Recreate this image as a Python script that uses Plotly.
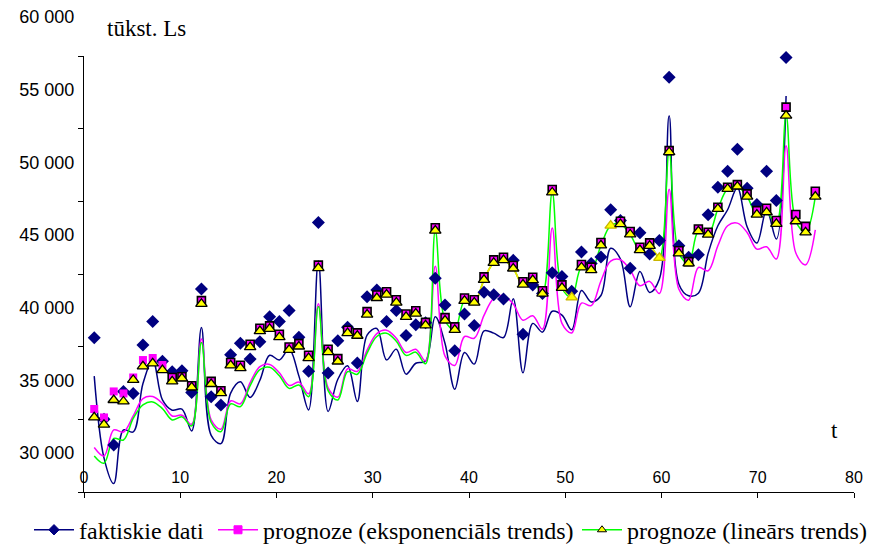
import plotly.graph_objects as go

# Monthly observations, t = 1..72 (tūkst. Ls)
t_actual = list(range(1, 73))
faktiskie = [
    37970, 32350, 30580, 34270, 34130, 37460, 39090, 36340, 35630, 35700,
    34200, 41320, 33900, 33330, 36800, 37580, 36500, 37690, 39410, 39090,
    39830, 37990, 35650, 45900, 35540, 37760, 38680, 36230, 40790, 41250,
    39090, 39830, 38110, 38860, 39000, 42050, 40220, 37070, 39600, 38800,
    41090, 40930, 40630, 43290, 38200, 41600, 41000, 42440, 42170, 41160,
    43870, 43080, 43520, 46770, 46030, 42740, 45180, 43730, 44650, 55890,
    44300, 43500, 43680, 46420, 48320, 49420, 50930, 48250, 47130, 49420,
    47400, 57250,
]

# Forecasts, t = 1..75
t_fc = list(range(1, 76))
prog_exp = [
    33060, 32480, 34270, 34130, 35230, 36430, 36570, 36090, 35230, 35280,
    34660, 40520, 34960, 34320, 36260, 36070, 37520, 38620, 38780, 38200,
    37330, 37560, 36760, 42960, 37170, 36530, 38480, 38300, 39760, 40900,
    41130, 40580, 39600, 39820, 39020, 45530, 39350, 38710, 40700, 40580,
    42150, 43320, 43500, 42930, 41820, 42130, 41200, 48160, 41600, 40940,
    43000, 42820, 44520, 45880, 45980, 45270, 44190, 44490, 43660, 50840,
    43950, 43200, 45450, 45220, 46940, 48320, 48500, 47860, 46710, 46870,
    46030, 53830, 46440, 45630, 48040,
]
prog_lin = [
    32480, 31980, 33680, 33580, 35060, 35990, 36200, 35740, 34960, 35170,
    34550, 40290, 34780, 34150, 36060, 35870, 37320, 38420, 38580, 38000,
    37130, 37360, 36560, 42760, 36970, 36330, 38280, 38100, 39560, 40700,
    40930, 40380, 39400, 39620, 38820, 45330, 39150, 38510, 40500, 40380,
    41950, 43120, 43300, 42730, 41620, 41930, 41000, 47960, 41400, 40740,
    42800, 42620, 44320, 45680, 45780, 45070, 43990, 44290, 43460, 50730,
    43770, 43080, 45290, 45060, 46830, 48210, 48370, 47680, 46440, 46600,
    45800, 53250, 45980, 45220, 47680,
]

x_ticks = list(range(0, 81, 10))
y_ticks = list(range(30000, 60001, 5000))
y_ticktext = [f"{v // 1000} 000" for v in y_ticks]

# the marker layer sits on its own value axis, offset from the curve layer
SHIFT = 2650
FC_START = 36  # from here the linear-trend curve follows the markers
YELLOW_RUNS = [(39, 47), (49, 50), (58, 59)]  # stretches drawn in the marker colour

NAVY = "#000080"
MAGENTA = "#FF00FF"
GREEN = "#00FF00"
YELLOW = "#FFFF00"

fig = go.Figure()

# smoothed curves
fig.add_trace(go.Scatter(x=t_actual, y=faktiskie, mode="lines", line=dict(color=NAVY, width=1.5, shape="spline"),
                         xaxis="x2", yaxis="y", showlegend=False, hoverinfo="skip"))
fig.add_trace(go.Scatter(x=t_fc, y=prog_exp, mode="lines", line=dict(color=MAGENTA, width=1.5, shape="spline"),
                         xaxis="x2", yaxis="y", showlegend=False, hoverinfo="skip"))
lin_curve = [v if t < FC_START else v + SHIFT for t, v in zip(t_fc, prog_lin)]
fig.add_trace(go.Scatter(x=t_fc, y=lin_curve, mode="lines", line=dict(color=GREEN, width=1.5, shape="spline"),
                         xaxis="x2", yaxis="y", showlegend=False, hoverinfo="skip"))

# yellow stretches of the linear-trend line between markers
for a, b in YELLOW_RUNS:
    xs = [t for t in t_fc if a <= t <= b]
    ys = [v for t, v in zip(t_fc, prog_lin) if a <= t <= b]
    fig.add_trace(go.Scatter(x=xs, y=ys, mode="lines", line=dict(color="#F0E000", width=1.8, shape="spline"),
                             xaxis="x2", yaxis="y2", showlegend=False, hoverinfo="skip"))

# point markers
fig.add_trace(go.Scatter(x=t_actual, y=faktiskie, mode="markers",
                         marker=dict(symbol="diamond", size=10, color=NAVY, line=dict(width=0)),
                         xaxis="x2", yaxis="y2", cliponaxis=False, showlegend=False))
sq_border = [0 if t <= 8 else 1.6 for t in t_fc]
hollow = {50, 54, 59}
sq_opacity = [0 if t in hollow else 1 for t in t_fc]
fig.add_trace(go.Scatter(x=t_fc, y=prog_exp, mode="markers",
                         marker=dict(symbol="square", size=8, color=MAGENTA, opacity=sq_opacity,
                                     line=dict(width=sq_border, color="black")),
                         xaxis="x2", yaxis="y2", cliponaxis=False, showlegend=False))
tri_edge = ["#C8B400" if t in hollow else "black" for t in t_fc]
fig.add_trace(go.Scatter(x=t_fc, y=prog_lin, mode="markers",
                         marker=dict(symbol="triangle-up", size=10, color=YELLOW,
                                     line=dict(width=1.3, color=tri_edge)),
                         xaxis="x2", yaxis="y2", cliponaxis=False, showlegend=False))

# legend entries, one small legend box each
legend_items = [
    ("faktiskie dati", NAVY, "diamond", NAVY, NAVY, "legend", 29),
    ("prognoze (eksponenciāls trends)", MAGENTA, "square", MAGENTA, MAGENTA, "legend2", 213),
    ("prognoze (lineārs trends)", GREEN, "triangle-up", YELLOW, "black", "legend3", 577),
]
legend_font = dict(family="Liberation Serif, Times New Roman, serif", size=24, color="black")
legend_boxes = {}
for name, lc, sym, mc, ml, lg, left_px in legend_items:
    fig.add_trace(go.Scatter(x=[None], y=[None], mode="lines+markers", name=name, legend=lg,
                             line=dict(color=lc, width=1.5),
                             marker=dict(symbol=sym, size=8, color=mc, line=dict(width=1, color=ml))))
    legend_boxes[lg] = dict(orientation="h", xref="container", x=left_px / 876, xanchor="left",
                            yref="container", y=0.029, yanchor="middle", font=legend_font,
                            itemwidth=40, bgcolor="rgba(0,0,0,0)")

axis_font = dict(family="Liberation Sans, Arial, sans-serif", size=18, color="black")

fig.update_layout(
    width=876, height=546,
    margin=dict(l=84, r=22, t=56, b=54, autoexpand=False),
    paper_bgcolor="white", plot_bgcolor="white",
    xaxis=dict(range=[0, 80], tickvals=x_ticks, ticks="outside", ticklen=5, tickcolor="black",
               ticklabelstandoff=-34,
               tickfont=dict(family="Liberation Sans, Arial, sans-serif", size=16, color="black"),
               showline=True, linecolor="black", linewidth=1, showgrid=False, zeroline=False, anchor="y"),
    xaxis2=dict(range=[-0.05, 78.97], overlaying="x", visible=False),
    yaxis=dict(range=[30000, 60000], tickvals=y_ticks, ticktext=y_ticktext, ticks="outside", ticklen=5,
               tickcolor="black", ticklabelshift=-39, tickfont=axis_font,
               showline=True, linecolor="black", linewidth=1, showgrid=False, zeroline=False),
    yaxis2=dict(range=[30000 - SHIFT, 60000 - SHIFT], overlaying="y", visible=False),
    legend=legend_boxes["legend"],
    legend2=legend_boxes["legend2"],
    legend3=legend_boxes["legend3"],
    annotations=[
        dict(text="tūkst. Ls", xref="paper", yref="paper", x=0.027, y=1.064, xanchor="left", yanchor="middle",
             showarrow=False, font=dict(family="Liberation Serif, Times New Roman, serif", size=23, color="black")),
        dict(text="t", xref="paper", yref="paper", x=0.975, y=0.142, xanchor="center", yanchor="middle",
             showarrow=False, font=dict(family="Liberation Serif, Times New Roman, serif", size=23, color="black")),
    ],
)

fig.write_html("out.html")
